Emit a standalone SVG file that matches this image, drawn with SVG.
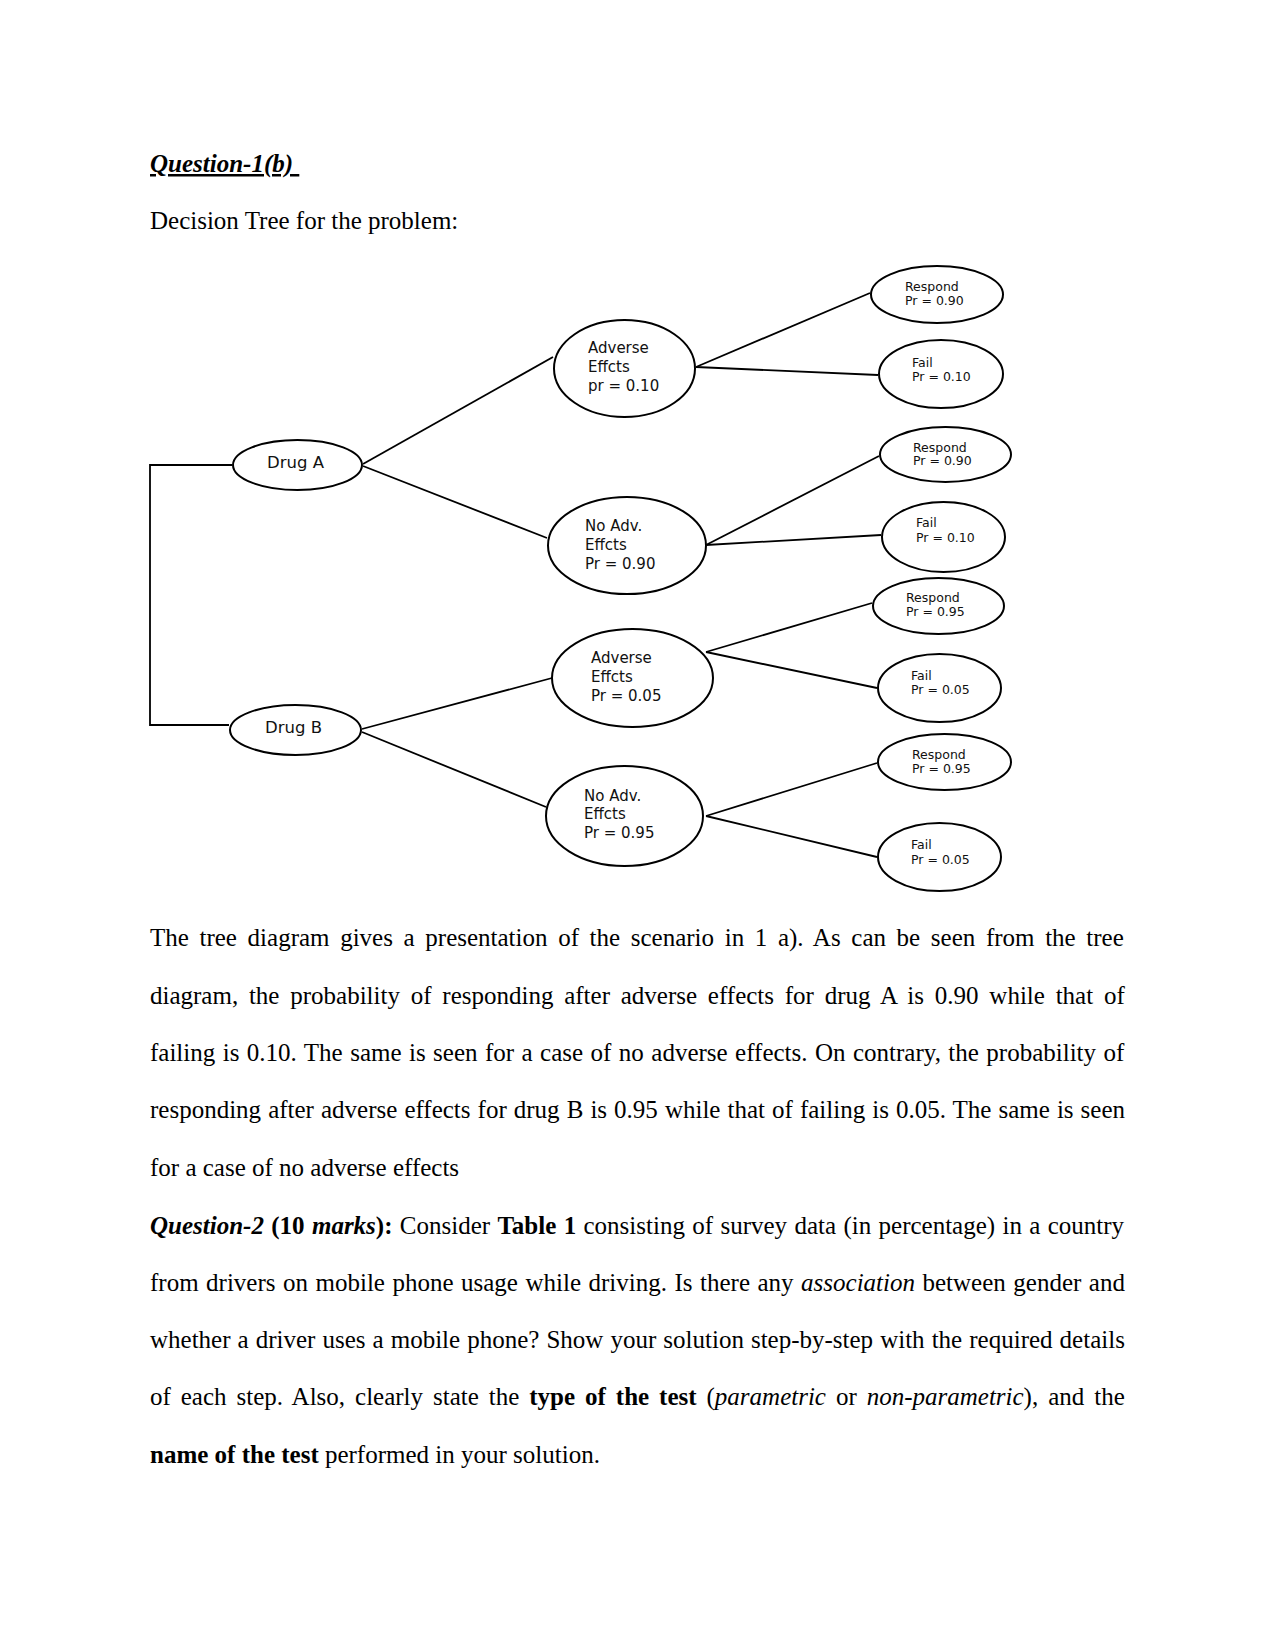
<svg xmlns="http://www.w3.org/2000/svg" width="1275" height="1650" viewBox="0 0 1275 1650">
<style>
.body{font-family:"Liberation Serif","Times New Roman",serif;font-size:25px;fill:#000}
.b{font-weight:bold}
.i{font-style:italic}
.bi{font-weight:bold;font-style:italic}
.node ellipse{fill:#fff;stroke:#000;stroke-width:2}
.lbl{font-family:"DejaVu Sans",sans-serif;fill:#111}
.big{font-size:16.5px}
.mid{font-size:15px}
.sm{font-size:12.5px}
#connectors line,#connectors polyline{stroke:#000;stroke-width:1.8;fill:none}
</style>
<rect width="1275" height="1650" fill="#fff"/>

<text class="body bi" x="150" y="172" xml:space="preserve" text-decoration="underline">Question-1(b) </text>
<text class="body" x="150" y="229">Decision Tree for the problem:</text>

<g id="connectors">
<polyline points="232,465 150,465 150,725 229,725"/>
<line x1="363" y1="464" x2="553" y2="357"/>
<line x1="363" y1="466" x2="547" y2="538"/>
<line x1="362" y1="729" x2="552" y2="678"/>
<line x1="362" y1="732" x2="546" y2="807"/>
<line x1="696" y1="367" x2="870" y2="293"/>
<line x1="696" y1="367" x2="878" y2="375"/>
<line x1="706" y1="545" x2="879" y2="456"/>
<line x1="706" y1="545" x2="881" y2="535"/>
<line x1="706" y1="652" x2="872" y2="603"/>
<line x1="706" y1="652" x2="877" y2="688"/>
<line x1="706" y1="816" x2="877" y2="763"/>
<line x1="706" y1="816" x2="877" y2="857"/>
</g>

<g id="drugA" class="node">
<ellipse cx="297.5" cy="465" rx="64.5" ry="25"/>
<text class="lbl big" x="267" y="468">Drug A</text>
</g>
<g id="drugB" class="node">
<ellipse cx="295.5" cy="730" rx="65.5" ry="25"/>
<text class="lbl big" x="265" y="733">Drug B</text>
</g>

<g id="advA" class="node">
<ellipse cx="624.5" cy="368.5" rx="70.5" ry="48.5"/>
<text class="lbl mid" x="588" y="353">Adverse</text>
<text class="lbl mid" x="588" y="372">Effcts</text>
<text class="lbl mid" x="588" y="391">pr = 0.10</text>
</g>
<g id="noAdvA" class="node">
<ellipse cx="627" cy="545.5" rx="79" ry="48.5"/>
<text class="lbl mid" x="585" y="531">No Adv.</text>
<text class="lbl mid" x="585" y="550">Effcts</text>
<text class="lbl mid" x="585" y="569">Pr = 0.90</text>
</g>
<g id="advB" class="node">
<ellipse cx="632.5" cy="678" rx="80.5" ry="49"/>
<text class="lbl mid" x="591" y="663">Adverse</text>
<text class="lbl mid" x="591" y="682">Effcts</text>
<text class="lbl mid" x="591" y="701">Pr = 0.05</text>
</g>
<g id="noAdvB" class="node">
<ellipse cx="624.5" cy="816" rx="78.5" ry="50"/>
<text class="lbl mid" x="584" y="801">No Adv.</text>
<text class="lbl mid" x="584" y="819">Effcts</text>
<text class="lbl mid" x="584" y="838">Pr = 0.95</text>
</g>

<g id="respA1" class="node">
<ellipse cx="937" cy="294.5" rx="66" ry="28.5"/>
<text class="lbl sm" x="905" y="291">Respond</text>
<text class="lbl sm" x="905" y="305">Pr = 0.90</text>
</g>
<g id="failA1" class="node">
<ellipse cx="941" cy="374" rx="62" ry="34"/>
<text class="lbl sm" x="912" y="367">Fail</text>
<text class="lbl sm" x="912" y="381">Pr = 0.10</text>
</g>
<g id="respA2" class="node">
<ellipse cx="945.5" cy="454.5" rx="65.5" ry="27.5"/>
<text class="lbl sm" x="913" y="452">Respond</text>
<text class="lbl sm" x="913" y="465">Pr = 0.90</text>
</g>
<g id="failA2" class="node">
<ellipse cx="943.5" cy="537" rx="61.5" ry="35"/>
<text class="lbl sm" x="916" y="527">Fail</text>
<text class="lbl sm" x="916" y="542">Pr = 0.10</text>
</g>
<g id="respB1" class="node">
<ellipse cx="938.5" cy="606" rx="65.5" ry="28"/>
<text class="lbl sm" x="906" y="602">Respond</text>
<text class="lbl sm" x="906" y="616">Pr = 0.95</text>
</g>
<g id="failB1" class="node">
<ellipse cx="939.5" cy="688" rx="61.5" ry="34"/>
<text class="lbl sm" x="911" y="680">Fail</text>
<text class="lbl sm" x="911" y="694">Pr = 0.05</text>
</g>
<g id="respB2" class="node">
<ellipse cx="944.5" cy="762" rx="66.5" ry="28"/>
<text class="lbl sm" x="912" y="759">Respond</text>
<text class="lbl sm" x="912" y="773">Pr = 0.95</text>
</g>
<g id="failB2" class="node">
<ellipse cx="939.5" cy="857" rx="61.5" ry="34"/>
<text class="lbl sm" x="911" y="849">Fail</text>
<text class="lbl sm" x="911" y="864">Pr = 0.05</text>
</g>

<text class="body" x="150" y="946" word-spacing="4.39">The tree diagram gives a presentation of the scenario in 1 a). As can be seen from the tree</text>
<text class="body" x="150" y="1004" word-spacing="4.52">diagram, the probability of responding after adverse effects for drug A is 0.90 while that of</text>
<text class="body" x="150" y="1061" word-spacing="1.2">failing is 0.10. The same is seen for a case of no adverse effects. On contrary, the probability of</text>
<text class="body" x="150" y="1118" word-spacing="0.8">responding after adverse effects for drug B is 0.95 while that of failing is 0.05. The same is seen</text>
<text class="body" x="150" y="1176">for a case of no adverse effects</text>

<text class="body" x="150" y="1234" word-spacing="1.1"><tspan class="bi">Question-2</tspan><tspan class="b"> (10 </tspan><tspan class="bi">marks</tspan><tspan class="b">):</tspan> Consider <tspan class="b">Table 1</tspan> consisting of survey data (in percentage) in a country</text>
<text class="body" x="150" y="1291" word-spacing="1.25">from drivers on mobile phone usage while driving. Is there any <tspan class="i">association</tspan> between gender and</text>
<text class="body" x="150" y="1348" word-spacing="0.8">whether a driver uses a mobile phone? Show your solution step-by-step with the required details</text>
<text class="body" x="150" y="1405" word-spacing="3.7">of each step. Also, clearly state the <tspan class="b">type of the test</tspan> (<tspan class="i">parametric</tspan> or <tspan class="i">non-parametric</tspan>), and the</text>
<text class="body" x="150" y="1463"><tspan class="b">name of the test</tspan> performed in your solution.</text>
</svg>
